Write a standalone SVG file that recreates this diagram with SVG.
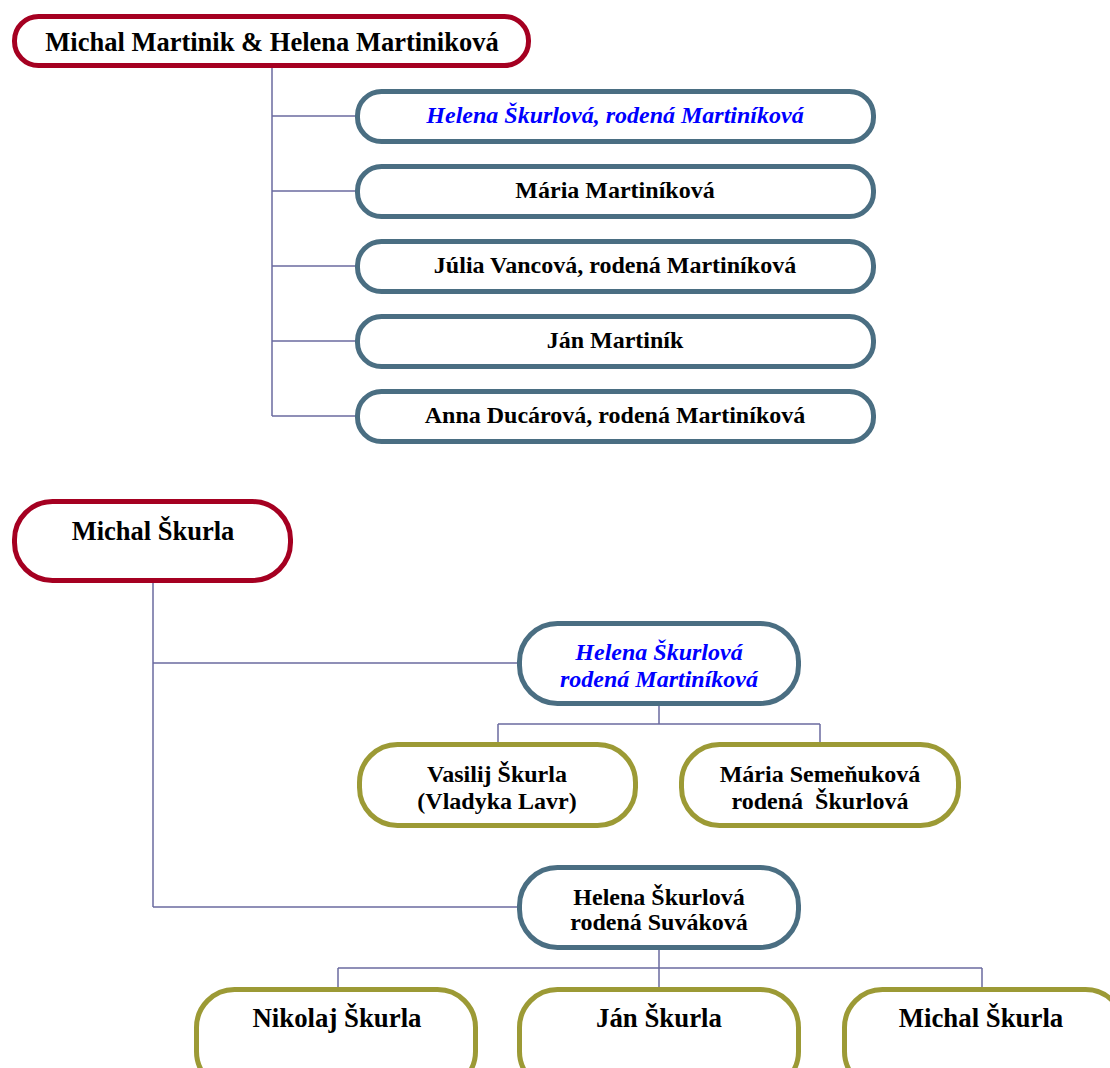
<svg xmlns="http://www.w3.org/2000/svg" width="1110" height="1068" viewBox="0 0 1110 1068">
<style>
.n rect{fill:#fff;stroke-width:5}
.r rect{stroke:#A50021}
.b rect{stroke:#4A6E82}
.o rect{stroke:#9C9A35}
text{font-family:"Liberation Serif","Times New Roman",serif;font-weight:bold;font-size:24px;fill:#000;text-anchor:middle}
.blue{fill:#0000FF;font-style:italic}
.big{font-size:26.5px}
.bot{font-size:26.8px}
#conn path{fill:none;stroke:#6B6BA0;stroke-width:1.5}
</style>
<rect width="1110" height="1068" fill="#fff"/>
<g id="conn">
<path d="M272 68V416M272 116H357M272 191H357M272 266H357M272 341H357M272 416H357"/>
<path d="M153 583V907M153 663H519M153 907H519"/>
<path d="M659 706V724M498 724H820M498 724V744M820 724V744"/>
<path d="M659 950V968M338 968H982M338 968V988M659 968V988M982 968V988"/>
</g>
<g id="n0" class="n r"><rect x="14.5" y="16.5" width="514" height="49" rx="24"/><text class="big" x="272" y="51">Michal Martinik &amp; Helena Martiniková</text></g>
<g id="n1" class="n b"><rect x="357.5" y="91.5" width="516" height="50" rx="24"/><text class="blue" x="615" y="123">Helena Škurlová, rodená Martiníková</text></g>
<g id="n2" class="n b"><rect x="357.5" y="166.5" width="516" height="50" rx="24"/><text x="615" y="198">Mária Martiníková</text></g>
<g id="n3" class="n b"><rect x="357.5" y="241.5" width="516" height="50" rx="24"/><text x="615" y="273">Júlia Vancová, rodená Martiníková</text></g>
<g id="n4" class="n b"><rect x="357.5" y="316.5" width="516" height="50" rx="24"/><text x="615" y="348">Ján Martiník</text></g>
<g id="n5" class="n b"><rect x="357.5" y="391.5" width="516" height="50" rx="24"/><text x="615" y="423">Anna Ducárová, rodená Martiníková</text></g>
<g id="n6" class="n r"><rect x="14.5" y="501.5" width="276" height="79" rx="38"/><text class="big" x="153" y="540">Michal Škurla</text></g>
<g id="n7" class="n b"><rect x="519.5" y="623.5" width="279" height="80" rx="38"/><text class="blue" x="659" y="660">Helena Škurlová</text><text class="blue" x="659" y="687">rodená Martiníková</text></g>
<g id="n8" class="n o"><rect x="359.5" y="744.5" width="276" height="81" rx="38"/><text x="497" y="782">Vasilij Škurla</text><text x="497" y="809">(Vladyka Lavr)</text></g>
<g id="n9" class="n o"><rect x="681.5" y="744.5" width="277" height="81" rx="38"/><text x="820" y="782">Mária Semeňuková</text><text x="820" y="809" xml:space="preserve">rodená  Škurlová</text></g>
<g id="n10" class="n b"><rect x="519.5" y="867.5" width="279" height="80" rx="38"/><text x="659" y="905">Helena Škurlová</text><text x="659" y="930">rodená Suváková</text></g>
<g id="n11" class="n o"><rect x="196.5" y="989.5" width="279" height="100" rx="38"/><text class="bot" x="337" y="1027">Nikolaj Škurla</text></g>
<g id="n12" class="n o"><rect x="519.5" y="989.5" width="279" height="100" rx="38"/><text class="bot" x="659" y="1027">Ján Škurla</text></g>
<g id="n13" class="n o"><rect x="844.5" y="989.5" width="279" height="100" rx="38"/><text class="bot" x="981" y="1027">Michal Škurla</text></g>
</svg>
